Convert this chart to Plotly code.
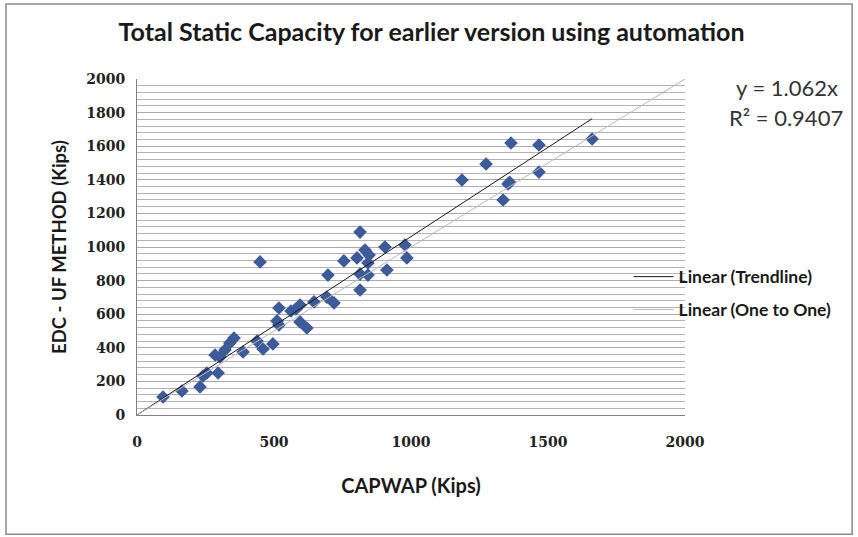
import plotly.graph_objects as go

# ---- data ----
capwap = [95, 164, 230, 241, 255, 296, 285, 303, 321, 339, 354, 387, 438, 460, 496,
          449, 518, 511, 518, 562, 580, 595, 595, 620, 646, 693, 719, 697, 755, 803,
          814, 814, 843, 847, 912, 985, 843, 814, 832, 905, 978,
          1186, 1274, 1365, 1467, 1467, 1354, 1360, 1336, 1661]
edc = [107, 143, 167, 232, 250, 250, 357, 345, 387, 429, 458, 375, 440, 393, 423,
       911, 637, 560, 536, 619, 631, 655, 554, 518, 673, 702, 667, 833, 917, 935,
       744, 839, 833, 952, 863, 935, 905, 1089, 982, 1000, 1012,
       1399, 1494, 1619, 1607, 1446, 1375, 1385, 1280, 1643]
slope = 1.062
r2 = 0.9407
one_to_one = [0, 2000]
trend_x = [0, max(capwap)]
trend_y = [slope * v for v in trend_x]

title_text = "Total Static Capacity for earlier version using automation"
x_title = "CAPWAP (Kips)"
y_title = "EDC - UF METHOD (Kips)"

fig = go.Figure()
fig.add_trace(go.Scatter(x=capwap, y=edc, mode="markers", showlegend=False,
                         marker=dict(symbol="diamond", size=10.5, color="#3d5a99",
                                     line=dict(width=0))))
fig.add_trace(go.Scatter(x=trend_x, y=trend_y, mode="lines", name="Linear (Trendline)",
                         legendgroup="a",
                         line=dict(color="#1a1a1a", width=1)))
fig.add_trace(go.Scatter(x=one_to_one, y=one_to_one, mode="lines", name="Linear (One to One)",
                         legendgroup="b",
                         line=dict(color="#b8b8b8", width=1)))

tickfont = dict(family="DejaVu Serif", size=14, color="#222222", weight="bold")
fig.update_layout(
    width=858, height=537,
    margin=dict(l=137, r=173, t=79, b=122),
    paper_bgcolor="white", plot_bgcolor="white",
    title=dict(text=title_text, x=0.503, xanchor="center", y=0.94, yanchor="middle",
               font=dict(family="Lato", size=25, color="#1a1a1a", weight="bold")),
    xaxis=dict(range=[0, 2000], dtick=500, showgrid=False, zeroline=False,
               showline=True, linecolor="#808080", linewidth=1,
               ticks="", tickfont=tickfont, ticklabelstandoff=14,
               title=dict(text=x_title, standoff=30,
                          font=dict(family="Lato", size=20, color="#1a1a1a", weight="bold"))),
    yaxis=dict(range=[0, 2000], dtick=200, showgrid=True, gridcolor="#ababab", gridwidth=1,
               minor=dict(dtick=40, showgrid=True, gridcolor="#b4b4b4", gridwidth=1),
               zeroline=False, showline=True, linecolor="#808080", linewidth=1,
               ticks="", tickfont=tickfont, ticklabelstandoff=8,
               title=dict(text=y_title, standoff=14,
                          font=dict(family="Lato", size=18.5, color="#1a1a1a", weight="bold"))),
    legend=dict(x=0.897, y=0.465, xanchor="left", yanchor="top", bgcolor="rgba(0,0,0,0)",
                font=dict(family="Lato", size=17.5, color="#1a1a1a", weight="bold"),
                tracegroupgap=7, traceorder="grouped", itemwidth=40),
    showlegend=True,
)

fig.add_annotation(xref="paper", yref="paper", x=1.283, y=0.974, xanchor="right", yanchor="middle",
                   text="y = 1.062x", showarrow=False,
                   font=dict(family="Lato", size=22, color="#333333"))
fig.add_annotation(xref="paper", yref="paper", x=1.292, y=0.886, xanchor="right", yanchor="middle",
                   text="R² = %.4f" % r2, showarrow=False,
                   font=dict(family="Lato", size=22, color="#333333"))

# outer chart frame
fig.add_shape(type="rect", xref="paper", yref="paper",
              x0=-0.239, x1=1.305, y0=-0.355, y1=1.223,
              line=dict(color="#8a8a8a", width=1.5), fillcolor="rgba(0,0,0,0)", layer="below")

fig.write_html("out.html", config={"displayModeBar": False},
               post_script="document.body.style.margin='0';")
